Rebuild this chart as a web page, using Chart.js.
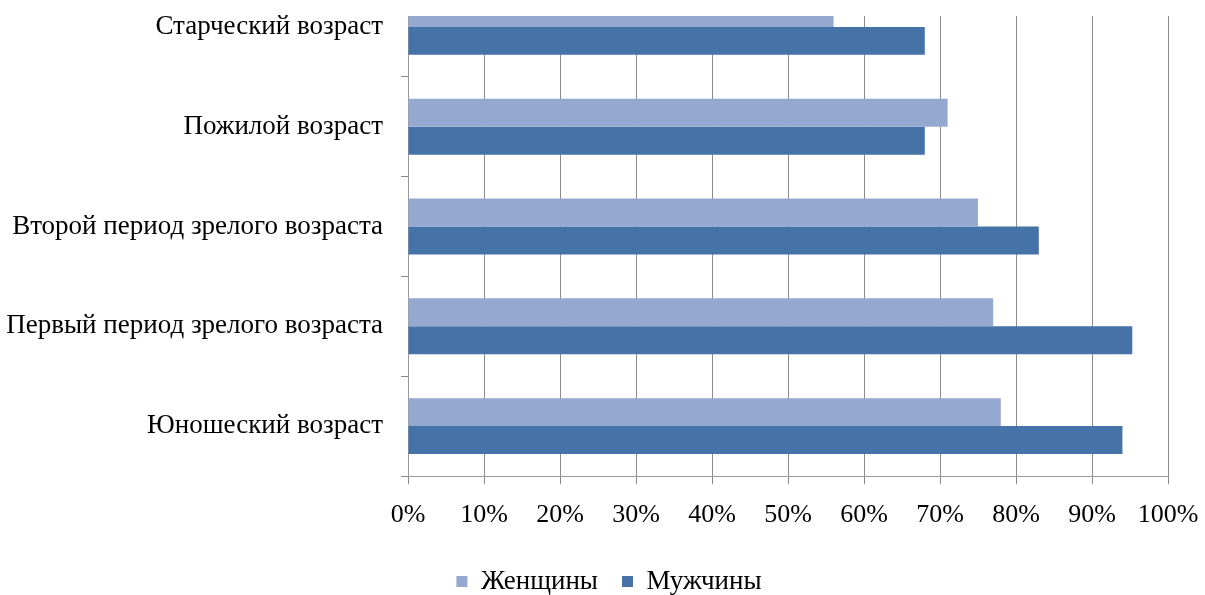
<!DOCTYPE html>
<html>
<head>
<meta charset="utf-8">
<script src="https://cdn.jsdelivr.net/npm/chart.js@4"></script>
<style>
  html, body { margin: 0; padding: 0; background: #fff; overflow: hidden; }
  #wrap { position: absolute; left: 0; top: -31px; width: 1205px; height: 636px; }
</style>
</head>
<body>
<div id="wrap"><canvas id="c"></canvas></div>
<script>
const categories = [
  'Старческий возраст',
  'Пожилой возраст',
  'Второй период зрелого возраста',
  'Первый период зрелого возраста',
  'Юношеский возраст'
];
const seriesNames = ['Женщины', 'Мужчины'];
const women = [56, 71, 75, 77, 78];
const men = [68, 68, 83, 95.3, 94];
const xTicks = [0, 10, 20, 30, 40, 50, 60, 70, 80, 90, 100];

const FONT = "'Liberation Serif', 'Times New Roman', serif";
const GRID = '#8a8a8a';

const coverTop = {
  id: 'coverTop',
  afterLayout(chart) {
    if (chart.legend) { chart.legend.left += 25; chart.legend.right += 25; }
  },
  afterDraw(chart) {
    const { ctx, chartArea } = chart;
    ctx.save();
    ctx.fillStyle = '#ffffff';
    ctx.fillRect(chartArea.left - 12, 0, chartArea.right - chartArea.left + 20, 47);
    ctx.restore();
  }
};

new Chart(document.getElementById('c'), {
  type: 'bar',
  data: {
    labels: categories,
    datasets: [
      { label: seriesNames[0], data: women, backgroundColor: 'rgb(149,169,208)', borderWidth: 0 },
      { label: seriesNames[1], data: men, backgroundColor: 'rgb(69,114,167)', borderWidth: 0 }
    ]
  },
  options: {
    indexAxis: 'y',
    responsive: true,
    maintainAspectRatio: false,
    animation: false,
    categoryPercentage: 0.56,
    barPercentage: 1.0,
    layout: { padding: { top: 8, right: 37, left: 0, bottom: 0 } },
    scales: {
      x: {
        type: 'linear',
        min: 0,
        max: 100,
        afterBuildTicks(scale) { scale.ticks = xTicks.map(v => ({ value: v })); },
        afterFit(scale) { scale.height = 68; scale.paddingLeft = 0; scale.paddingRight = 0; },
        grid: { color: GRID, lineWidth: 1, tickLength: 8, drawTicks: true },
        border: { display: true, color: '#9a9a9a', width: 1 },
        ticks: {
          padding: 16,
          color: '#000',
          font: { family: FONT, size: 26 },
          callback: v => v + '%'
        }
      },
      y: {
        type: 'category',
        afterFit(scale) { scale.width = 408; scale.paddingTop = 0; scale.paddingBottom = 0; },
        grid: { display: true, drawOnChartArea: false, drawTicks: true, tickLength: 7, color: GRID, offset: true },
        border: { display: true, color: '#9a9a9a', width: 1 },
        ticks: {
          padding: 18,
          color: '#000',
          font: { family: FONT, size: 27 }
        }
      }
    },
    plugins: {
      legend: {
        position: 'bottom',
        labels: {
          boxWidth: 11,
          boxHeight: 11,
          padding: 24,
          color: '#000',
          font: { family: FONT, size: 27 }
        }
      },
      tooltip: { enabled: false }
    }
  },
  plugins: [coverTop]
});
</script>
</body>
</html>
